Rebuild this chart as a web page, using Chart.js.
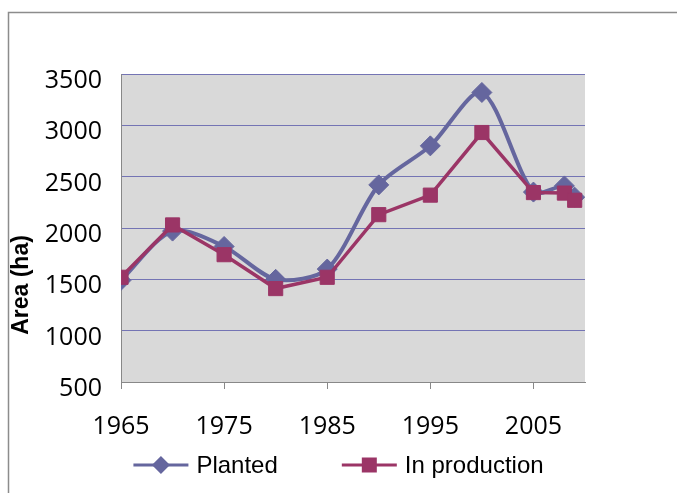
<!DOCTYPE html>
<html>
<head>
<meta charset="utf-8">
<script src="https://cdn.jsdelivr.net/npm/chart.js@4.4.1/dist/chart.umd.min.js"></script>
<style>
  html, body { margin: 0; padding: 0; background: #fff; }
</style>
</head>
<body>
<canvas id="areaChart" width="677" height="493"></canvas>
<script>
// Area planted vs in production (ha)
const years = [1965, 1970, 1975, 1980, 1985, 1990, 1995, 2000, 2005, 2008, 2009];
const planted = [1490, 1970, 1820, 1500, 1600, 2420, 2800, 3320, 2350, 2410, 2300];
const inProduction = [1520, 2030, 1740, 1410, 1520, 2130, 2320, 2930, 2345, 2340, 2270];
const xTicks = [1965, 1975, 1985, 1995, 2005];
const seriesLabels = ['Planted', 'In production'];
const yTitle = 'Area (ha)';

const PLANTED_COLOR = '#65669e';
const PROD_COLOR = '#9b3566';
const tickFont = { family: 'Open Sans', size: 25 };

// white page, grey frame, grey plot area, rotated y title and line+marker legend
const framePlugin = {
    id: 'frame',
    beforeDraw(chart) {
        const { ctx, chartArea: a, width, height } = chart;
        ctx.save();
        ctx.fillStyle = '#fff';
        ctx.fillRect(0, 0, width, height);
        ctx.fillStyle = '#d9d9d9';
        ctx.fillRect(a.left, a.top, a.right - a.left, a.bottom - a.top);
        ctx.strokeStyle = '#8c8c8c';
        ctx.lineWidth = 1.5;
        ctx.beginPath();
        ctx.moveTo(8.5, height);
        ctx.lineTo(8.5, 12.5);
        ctx.lineTo(width, 12.5);
        ctx.stroke();
        ctx.restore();
    },
    afterDraw(chart) {
        const { ctx, width } = chart;
        ctx.save();

        // y axis title
        ctx.translate(22, 285);
        ctx.rotate(-Math.PI / 2);
        ctx.font = 'bold 23px "Liberation Sans"';
        ctx.fillStyle = '#000';
        ctx.textAlign = 'center';
        ctx.textBaseline = 'middle';
        ctx.fillText(yTitle, 0, 0);
        ctx.setTransform(1, 0, 0, 1, 0, 0);

        // legend
        ctx.font = '24px "Liberation Sans"';
        ctx.textAlign = 'left';
        const symW = 55, gap = 8, itemGap = 64, ly = 465;
        const widths = chart.data.datasets.map(ds => ctx.measureText(ds.label).width);
        const total = widths.reduce((s, w) => s + symW + gap + w, 0) + itemGap;
        let x = (width - total) / 2;
        chart.data.datasets.forEach((ds, i) => {
            ctx.strokeStyle = ds.borderColor;
            ctx.fillStyle = ds.borderColor;
            ctx.lineWidth = 3;
            ctx.beginPath();
            ctx.moveTo(x, ly);
            ctx.lineTo(x + symW, ly);
            ctx.stroke();
            const cx = x + symW / 2;
            ctx.beginPath();
            if (ds.pointStyle === 'rectRot') {
                ctx.moveTo(cx - 9, ly);
                ctx.lineTo(cx, ly - 9);
                ctx.lineTo(cx + 9, ly);
                ctx.lineTo(cx, ly + 9);
                ctx.closePath();
            } else {
                ctx.rect(cx - 7.5, ly - 7.5, 15, 15);
            }
            ctx.fill();
            ctx.fillStyle = '#000';
            ctx.fillText(ds.label, x + symW + gap, ly + 1);
            x += symW + gap + widths[i] + itemGap;
        });
        ctx.restore();
    }
};

new Chart(document.getElementById('areaChart'), {
    type: 'line',
    data: {
        datasets: [
            {
                label: seriesLabels[0],
                data: years.map((yr, i) => ({ x: yr, y: planted[i] })),
                borderColor: PLANTED_COLOR,
                backgroundColor: PLANTED_COLOR,
                borderWidth: 4,
                pointStyle: 'rectRot',
                pointRadius: 10,
                pointBorderWidth: 1,
                tension: 0.28,
                order: 2
            },
            {
                label: seriesLabels[1],
                data: years.map((yr, i) => ({ x: yr, y: inProduction[i] })),
                borderColor: PROD_COLOR,
                backgroundColor: PROD_COLOR,
                borderWidth: 3.5,
                pointStyle: 'rect',
                pointRadius: 10,
                pointBorderWidth: 1,
                tension: 0,
                order: 1
            }
        ]
    },
    options: {
        responsive: false,
        animation: false,
        events: [],
        layout: { padding: { left: 9, top: 74, right: 92, bottom: 51 } },
        plugins: {
            legend: { display: false },
            tooltip: { enabled: false }
        },
        scales: {
            x: {
                type: 'linear',
                min: 1965,
                max: 2010,
                afterBuildTicks: (scale) => { scale.ticks = xTicks.map(v => ({ value: v })); },
                afterFit: (scale) => { scale.height = 60; },
                grid: { drawOnChartArea: false, color: '#888', tickLength: 7 },
                border: { color: '#888' },
                ticks: {
                    color: '#000',
                    font: tickFont,
                    padding: 23,
                    maxRotation: 0,
                    autoSkip: false,
                    callback: (v) => String(v)
                }
            },
            y: {
                min: 500,
                max: 3500,
                afterFit: (scale) => { scale.width = 112; },
                grid: {
                    drawTicks: false,
                    color: (c) => c.tick && c.tick.value === 500 ? 'rgba(0,0,0,0)' : '#7474b4'
                },
                border: { color: '#888' },
                ticks: {
                    stepSize: 500,
                    color: '#000',
                    font: tickFont,
                    padding: 19,
                    labelOffset: 7,
                    callback: (v) => String(v)
                }
            }
        }
    },
    plugins: [framePlugin]
});
</script>
</body>
</html>
